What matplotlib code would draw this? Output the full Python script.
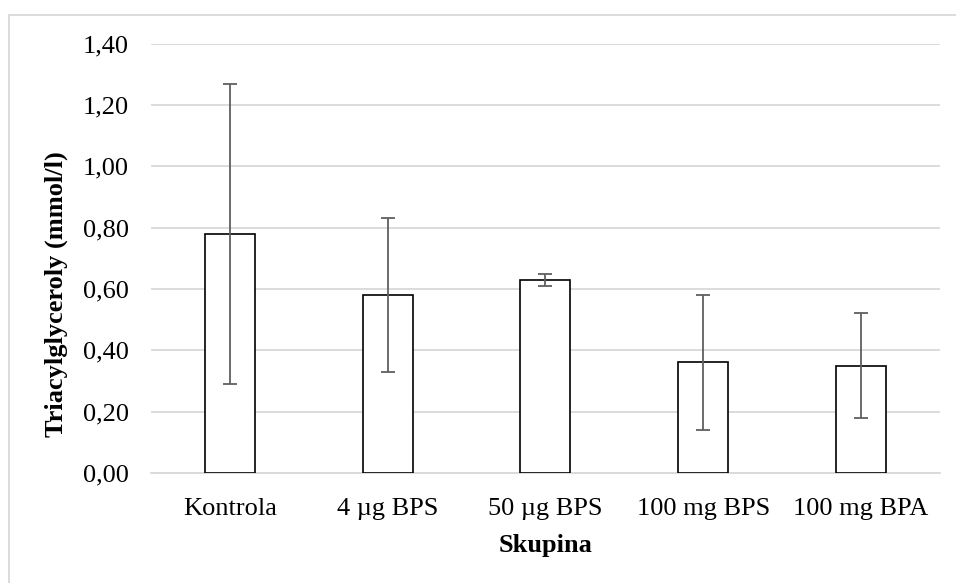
import matplotlib.pyplot as plt
from matplotlib.lines import Line2D

skupiny = ['Kontrola', '4 µg BPS', '50 µg BPS', '100 mg BPS', '100 mg BPA']
prumer = [0.78, 0.58, 0.63, 0.36, 0.35]
chyba = [0.49, 0.25, 0.02, 0.22, 0.17]
yticks = [0.0, 0.2, 0.4, 0.6, 0.8, 1.0, 1.2, 1.4]

plt.rcParams['font.family'] = ['Liberation Serif', 'DejaVu Serif']

fig = plt.figure(figsize=(9.56, 5.83), dpi=100)
ax = fig.add_axes([0.158, 0.189, 0.825, 0.736])

x = range(len(skupiny))
ax.bar(x, prumer, width=0.317, color='white', edgecolor='black', linewidth=1.2, zorder=3)
ax.errorbar(x, prumer, yerr=chyba, fmt='none', ecolor='#5f5f5f', elinewidth=1.3,
            capsize=5, capthick=1.3, zorder=4)

ax.set_xlim(-0.5, len(skupiny) - 0.5)
ax.set_ylim(0, 1.4)
ax.set_yticks(yticks)
ax.set_yticklabels([f'{v:.2f}'.replace('.', ',') for v in yticks])
ax.set_xticks(list(x))
ax.set_xticklabels(skupiny)
ax.tick_params(axis='both', length=0, labelsize=19, colors='black')
ax.tick_params(axis='y', pad=16)
ax.tick_params(axis='x', pad=18)

ax.grid(axis='y', color='#d9d9d9', linewidth=1.3, zorder=0)
for s in ['top', 'right', 'left']:
    ax.spines[s].set_visible(False)
ax.spines['bottom'].set_color('#d9d9d9')
ax.spines['bottom'].set_linewidth(1.3)

ax.set_xlabel('Skupina', fontsize=19, fontweight='bold', labelpad=10)
ax.set_ylabel('Triacylglyceroly (mmol/l)', fontsize=19, fontweight='bold')
ax.yaxis.set_label_coords(-0.105, 0.417)

# rameček grafu (vpravo a dole je oříznutý)
fig.add_artist(Line2D([9 / 956, 9 / 956], [0, 1 - 15 / 583], color='#d9d9d9', linewidth=1.3))
fig.add_artist(Line2D([9 / 956, 1], [1 - 15 / 583, 1 - 15 / 583], color='#d9d9d9', linewidth=1.3))

fig.savefig('out.png', dpi=100)
